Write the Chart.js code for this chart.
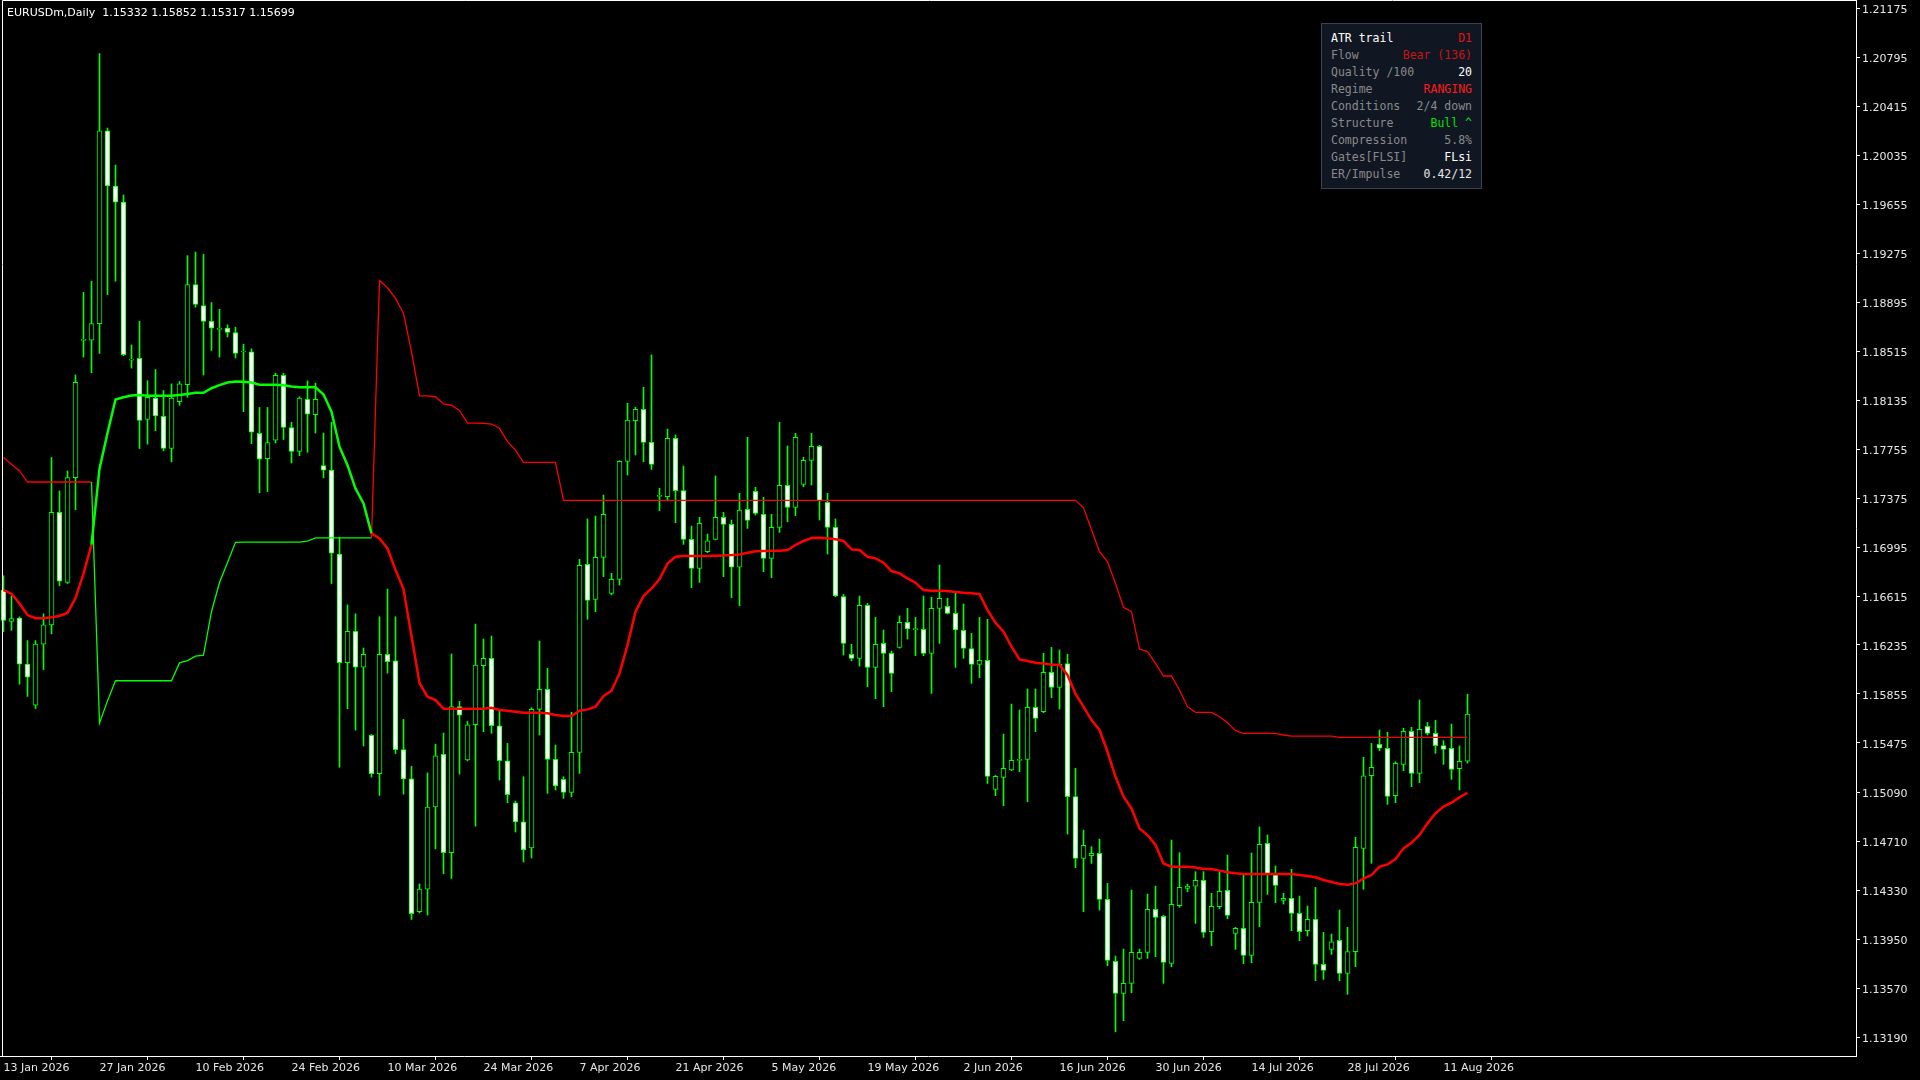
<!DOCTYPE html>
<html>
<head>
<meta charset="utf-8">
<script src="https://cdn.jsdelivr.net/npm/chart.js@4.4.1/dist/chart.umd.min.js"></script>
<style>
  html, body { margin: 0; padding: 0; background: #000; }
  #wrap { position: relative; width: 1920px; height: 1080px; overflow: hidden; }
  #chart { position: absolute; left: 0; top: 0; }
  #head { position: absolute; left: 7px; top: 6px; font: 11px "DejaVu Sans", sans-serif; color: #fff; white-space: pre; }
  #panel { position: absolute; left: 1321px; top: 23px; width: 159px; height: 164px; background: #111722; border: 1px solid #3a4150;
           font: 11.5px "DejaVu Sans Mono", monospace; }
  #panel .row { position: absolute; left: 9px; right: 9px; height: 17px; line-height: 17px; }
  #panel .k { float: left; color: #8a8a8a; }
  #panel .v { float: right; }
</style>
</head>
<body>
<div id="wrap">
  <canvas id="chart" width="1920" height="1080"></canvas>
  <div id="head">EURUSDm,Daily  1.15332 1.15852 1.15317 1.15699</div>
  <div id="panel"></div>
</div>
<script>
// EURUSDm D1 - ATR trail
// 日足 OHLC (13 Jan 2026 から, 1本ずつ)
var opens = [
  1.16661,1.16418,1.16443,1.16086,1.15767,1.16242,1.16391,1.17264,1.16720,1.17534,
  1.18600,1.18602,1.18730,1.20227,1.19798,1.19673,1.18446,1.18460,1.17985,1.18151,
  1.18009,1.17760,1.18124,1.18255,1.19032,1.18869,1.18747,1.18685,1.18695,1.18661,
  1.18509,1.18511,1.17877,1.17681,1.17824,1.18328,1.17923,1.17738,1.18142,1.18023,
  1.17628,1.17592,1.16941,1.16098,1.16341,1.16062,1.15534,1.15236,1.16162,1.16112,
  1.15422,1.15196,1.14164,1.14340,1.14977,1.15385,1.14622,1.15757,1.15342,1.15617,
  1.16074,1.16131,1.15608,1.15336,1.15010,1.14861,1.14659,1.15735,1.15890,1.15347,
  1.15191,1.15090,1.15401,1.16861,1.16589,1.16915,1.16636,1.16744,1.17660,1.17976,
  1.18064,1.17808,1.17389,1.17386,1.17839,1.17433,1.17055,1.16830,1.16959,1.17055,
  1.17226,1.17171,1.16838,1.17288,1.17428,1.17249,1.16907,1.17148,1.17474,1.17303,
  1.17482,1.17668,1.17777,1.17342,1.17148,1.16610,1.16162,1.16131,1.16542,1.16061,
  1.16247,1.16170,1.16216,1.16410,1.16354,1.16356,1.16170,1.16519,1.16535,1.16480,
  1.16348,1.16206,1.16084,1.16115,1.15114,1.15207,1.15264,1.15339,1.15347,1.15750,
  1.15717,1.16022,1.15906,1.16090,1.15057,1.14578,1.14599,1.14617,1.14260,1.13778,
  1.13530,1.13608,1.13802,1.13848,1.14182,1.14128,1.13763,1.14211,1.14345,1.14363,
  1.14407,1.14009,1.14203,1.14330,1.13996,1.14035,1.13825,1.14237,1.14695,1.14449,
  1.14252,1.14268,1.14151,1.14017,1.14105,1.13755,1.13872,1.13942,1.13686,1.13854,
  1.14656,1.15220,1.15464,1.15433,1.15065,1.15308,1.15564,1.15238,1.15603,1.15549,
  1.15453,1.15433,1.15275,1.15332
];
var highs = [
  1.16772,1.16616,1.16453,1.16269,1.16269,1.16477,1.17690,1.17430,1.17586,1.18331,
  1.18973,1.19059,1.20827,1.20248,1.19961,1.19728,1.18564,1.18747,1.18286,1.18373,
  1.18210,1.18262,1.18280,1.19257,1.19285,1.19267,1.18893,1.18841,1.18720,1.18702,
  1.18570,1.18534,1.18079,1.18079,1.18345,1.18345,1.17963,1.18162,1.18285,1.18268,
  1.17880,1.17963,1.17067,1.16546,1.16477,1.16211,1.15540,1.16454,1.16669,1.16454,
  1.15657,1.15292,1.14380,1.15242,1.15465,1.15551,1.16165,1.15797,1.15641,1.16397,
  1.16281,1.16304,1.15730,1.15471,1.15023,1.15212,1.15748,1.16265,1.16053,1.15458,
  1.15212,1.15712,1.16900,1.17213,1.17236,1.17399,1.16791,1.17665,1.18111,1.18080,
  1.18235,1.18486,1.17451,1.17911,1.17865,1.17624,1.17158,1.17226,1.17096,1.17547,
  1.17265,1.17205,1.17412,1.17847,1.17459,1.17381,1.17249,1.17963,1.17780,1.17878,
  1.17692,1.17878,1.17785,1.17412,1.17213,1.16628,1.16240,1.16615,1.16558,1.16449,
  1.16351,1.16188,1.16460,1.16519,1.16449,1.16615,1.16605,1.16856,1.16597,1.16649,
  1.16553,1.16325,1.16449,1.16434,1.15222,1.15543,1.15776,1.15730,1.15893,1.15893,
  1.16170,1.16216,1.16196,1.16162,1.15277,1.14798,1.14669,1.14728,1.14384,1.13820,
  1.13874,1.14332,1.13874,1.14301,1.14363,1.14138,1.14720,1.14622,1.14379,1.14475,
  1.14475,1.14307,1.14475,1.14604,1.14043,1.14454,1.14620,1.14822,1.14760,1.14519,
  1.14307,1.14493,1.14286,1.14208,1.14353,1.14004,1.13991,1.14177,1.14043,1.14742,
  1.15363,1.15471,1.15575,1.15557,1.15329,1.15588,1.15596,1.15808,1.15634,1.15650,
  1.15492,1.15621,1.15451,1.15852
];
var lows = [
  1.16339,1.16349,1.15930,1.15836,1.15742,1.16044,1.16321,1.16696,1.16712,1.17285,
  1.18470,1.18349,1.18498,1.18955,1.19059,1.18480,1.18384,1.17760,1.17794,1.17898,
  1.17742,1.17656,1.18096,1.18158,1.18858,1.18331,1.18522,1.18470,1.18626,1.18463,
  1.18046,1.17797,1.17416,1.17426,1.17804,1.17830,1.17648,1.17704,1.17731,1.17880,
  1.17532,1.16712,1.15286,1.15740,1.15574,1.15451,1.15209,1.15067,1.16016,1.15392,
  1.15077,1.14104,1.14155,1.14138,1.14652,1.14459,1.14423,1.15232,1.15335,1.14828,
  1.15562,1.15549,1.15186,1.15010,1.14783,1.14550,1.14581,1.15536,1.15083,1.15109,
  1.15044,1.15057,1.15238,1.16434,1.16493,1.16765,1.16623,1.16700,1.17554,1.17710,
  1.17658,1.17598,1.17277,1.17360,1.17184,1.17016,1.16680,1.16721,1.16951,1.17050,
  1.16765,1.16602,1.16540,1.17140,1.17244,1.16804,1.16757,1.17109,1.17192,1.17239,
  1.17464,1.17477,1.17205,1.16941,1.16610,1.16157,1.16113,1.16071,1.15911,1.15818,
  1.15756,1.15872,1.16210,1.16281,1.16152,1.16152,1.15859,1.16247,1.16475,1.16061,
  1.16131,1.15937,1.15981,1.15160,1.15065,1.14987,1.15259,1.15251,1.15018,1.15562,
  1.15709,1.15826,1.15738,1.14767,1.14506,1.14164,1.14539,1.14177,1.13745,1.13232,
  1.13318,1.13535,1.13794,1.13802,1.13815,1.13608,1.13737,1.14198,1.14319,1.14073,
  1.13965,1.13900,1.14188,1.14110,1.13872,1.13761,1.13768,1.14048,1.14299,1.14234,
  1.14224,1.14017,1.13939,1.13975,1.13629,1.13639,1.13833,1.13629,1.13523,1.13737,
  1.14338,1.14540,1.15414,1.14998,1.15011,1.15259,1.15135,1.15166,1.15536,1.15394,
  1.15308,1.15192,1.15109,1.15317
];
var closes = [
  1.16425,1.16439,1.16086,1.15985,1.16242,1.16391,1.17264,1.16730,1.17534,1.18273,
  1.18604,1.18730,1.20227,1.19798,1.19673,1.18488,1.18448,1.17978,1.18158,1.18013,
  1.17760,1.18151,1.18262,1.19032,1.18879,1.18747,1.18695,1.18687,1.18661,1.18498,
  1.18511,1.17887,1.17678,1.17807,1.18328,1.17923,1.17738,1.18152,1.18026,1.18142,
  1.17592,1.16948,1.16098,1.16341,1.16062,1.16162,1.15236,1.16162,1.16105,1.15422,
  1.15196,1.14148,1.14340,1.14977,1.15375,1.14622,1.15757,1.15690,1.15614,1.16078,
  1.16131,1.15608,1.15336,1.15072,1.14861,1.14643,1.15735,1.15890,1.15347,1.15140,
  1.15090,1.15401,1.16853,1.16581,1.16915,1.17249,1.16744,1.17660,1.17981,1.18064,
  1.17808,1.17637,1.17393,1.17839,1.17433,1.17055,1.16830,1.17179,1.17044,1.17226,
  1.17171,1.16838,1.17283,1.17202,1.17257,1.16907,1.17148,1.17474,1.17303,1.17847,
  1.17668,1.17777,1.17355,1.17148,1.16615,1.16247,1.16131,1.16542,1.16061,1.16240,
  1.16170,1.16015,1.16410,1.16359,1.16358,1.16170,1.16519,1.16597,1.16480,1.16351,
  1.16209,1.16084,1.16115,1.15215,1.15215,1.15277,1.15339,1.15347,1.15750,1.15665,
  1.16022,1.15906,1.16087,1.15057,1.14578,1.14679,1.14617,1.14260,1.13786,1.13530,
  1.13608,1.13848,1.13848,1.14182,1.14120,1.13771,1.14221,1.14353,1.14363,1.14407,
  1.14004,1.14206,1.14322,1.14136,1.14035,1.13825,1.14237,1.14687,1.14454,1.14369,
  1.14268,1.14151,1.14009,1.14105,1.13755,1.13709,1.13931,1.13686,1.13854,1.14664,
  1.15220,1.15285,1.15433,1.15060,1.15316,1.15564,1.15238,1.15580,1.15549,1.15453,
  1.15425,1.15269,1.15332,1.15699
];

// ATR trail: 太線(メイン) と 細線(バンド)
var trailMain = [
  1.16661,1.16633,1.16557,1.16467,1.16443,1.16443,1.16450,1.16460,1.16484,1.16599,
  1.16789,1.17014,1.17604,1.17881,1.18141,1.18158,1.18172,1.18176,1.18169,1.18169,
  1.18169,1.18169,1.18176,1.18183,1.18193,1.18193,1.18228,1.18252,1.18273,1.18280,
  1.18278,1.18272,1.18255,1.18255,1.18255,1.18252,1.18242,1.18235,1.18235,1.18235,
  1.18179,1.18046,1.17774,1.17631,1.17449,1.17333,1.17101,1.17061,1.16984,1.16818,
  1.16669,1.16304,1.15939,1.15833,1.15807,1.15740,1.15740,1.15740,1.15740,1.15740,
  1.15740,1.15748,1.15730,1.15725,1.15717,1.15709,1.15709,1.15709,1.15704,1.15691,
  1.15683,1.15683,1.15725,1.15735,1.15756,1.15838,1.15880,1.16014,1.16234,1.16493,
  1.16615,1.16674,1.16744,1.16868,1.16920,1.16925,1.16925,1.16925,1.16925,1.16928,
  1.16930,1.16933,1.16938,1.16951,1.16962,1.16964,1.16967,1.16967,1.16972,1.17011,
  1.17042,1.17065,1.17067,1.17063,1.17055,1.17042,1.16977,1.16972,1.16920,1.16907,
  1.16874,1.16809,1.16791,1.16752,1.16718,1.16662,1.16656,1.16656,1.16654,1.16646,
  1.16640,1.16636,1.16630,1.16506,1.16408,1.16338,1.16222,1.16123,1.16110,1.16097,
  1.16092,1.16082,1.16082,1.16002,1.15854,1.15756,1.15652,1.15575,1.15406,1.15212,
  1.15057,1.14966,1.14811,1.14759,1.14682,1.14539,1.14513,1.14513,1.14513,1.14508,
  1.14496,1.14496,1.14483,1.14470,1.14462,1.14457,1.14457,1.14457,1.14457,1.14457,
  1.14457,1.14457,1.14449,1.14441,1.14431,1.14410,1.14395,1.14379,1.14374,1.14384,
  1.14421,1.14449,1.14514,1.14532,1.14573,1.14656,1.14700,1.14760,1.14850,1.14928,
  1.14980,1.15011,1.15052,1.15088
];
var trailBand = [
  1.17690,1.17638,1.17586,1.17500,1.17500,1.17500,1.17500,1.17500,1.17500,1.17500,
  1.17500,1.17500,1.15628,1.15801,1.15957,1.15957,1.15957,1.15957,1.15957,1.15957,
  1.15957,1.15957,1.16096,1.16113,1.16148,1.16155,1.16495,1.16720,1.16876,1.17032,
  1.17034,1.17034,1.17034,1.17034,1.17034,1.17034,1.17034,1.17034,1.17041,1.17067,
  1.17067,1.17067,1.17067,1.17067,1.17067,1.17067,1.17067,1.19065,1.19008,1.18925,
  1.18809,1.18511,1.18169,1.18169,1.18162,1.18106,1.18096,1.18056,1.17957,1.17957,
  1.17955,1.17950,1.17917,1.17813,1.17748,1.17653,1.17653,1.17653,1.17653,1.17653,
  1.17358,1.17358,1.17358,1.17358,1.17358,1.17358,1.17358,1.17358,1.17358,1.17358,
  1.17358,1.17358,1.17358,1.17358,1.17358,1.17358,1.17358,1.17358,1.17358,1.17358,
  1.17358,1.17358,1.17358,1.17358,1.17358,1.17358,1.17358,1.17358,1.17358,1.17358,
  1.17358,1.17358,1.17358,1.17358,1.17358,1.17358,1.17358,1.17358,1.17358,1.17358,
  1.17358,1.17358,1.17358,1.17358,1.17358,1.17358,1.17358,1.17358,1.17358,1.17358,
  1.17358,1.17358,1.17358,1.17358,1.17358,1.17358,1.17358,1.17358,1.17358,1.17358,
  1.17358,1.17358,1.17358,1.17358,1.17358,1.17300,1.17130,1.16960,1.16881,1.16713,
  1.16527,1.16493,1.16203,1.16183,1.16092,1.15994,1.15994,1.15885,1.15756,1.15712,
  1.15712,1.15712,1.15678,1.15632,1.15570,1.15549,1.15549,1.15549,1.15549,1.15549,
  1.15536,1.15528,1.15528,1.15528,1.15528,1.15528,1.15528,1.15518,1.15518,1.15518,
  1.15518,1.15518,1.15518,1.15518,1.15518,1.15518,1.15518,1.15518,1.15518,1.15518,
  1.15518,1.15518,1.15518,1.15518
];
// 上昇判定の区間 (バーindex)
var bullFrom = 11, bullTo = 46;

var dateLabels = ["13 Jan 2026", "27 Jan 2026", "10 Feb 2026", "24 Feb 2026", "10 Mar 2026", "24 Mar 2026",
  "7 Apr 2026", "21 Apr 2026", "5 May 2026", "19 May 2026", "2 Jun 2026", "16 Jun 2026",
  "30 Jun 2026", "14 Jul 2026", "28 Jul 2026", "11 Aug 2026"];
var barsPerLabel = 12;
var priceLabels = ["1.21175", "1.20795", "1.20415", "1.20035", "1.19655", "1.19275", "1.18895", "1.18515",
  "1.18135", "1.17755", "1.17375", "1.16995", "1.16615", "1.16235", "1.15855", "1.15475", "1.15090",
  "1.14710", "1.14330", "1.13950", "1.13570", "1.13190"];

// パネル
var panelRows = [
  ["ATR trail", "D1", "#ffffff", "#e01515"],
  ["Flow", "Bear (136)", null, "#c81414"],
  ["Quality /100", "20", null, "#ffffff"],
  ["Regime", "RANGING", null, "#ff1a1a"],
  ["Conditions", "2/4 down", null, "#8a8a8a"],
  ["Structure", "Bull ^", null, "#00e000"],
  ["Compression", "5.8%", null, "#8a8a8a"],
  ["Gates[FLSI]", "FLsi", null, "#ffffff"],
  ["ER/Impulse", "0.42/12", null, "#e6e6e6"]
];
var panel = document.getElementById("panel");
panelRows.forEach(function (r, i) {
  var row = document.createElement("div");
  row.className = "row";
  row.style.top = (6 + i * 17) + "px";
  row.innerHTML = '<span class="k"' + (r[2] ? ' style="color:' + r[2] + '"' : '') + '>' + r[0] +
    '</span><span class="v" style="color:' + r[3] + '">' + r[1] + '</span>';
  panel.appendChild(row);
});

var GREEN = "#00ff00", RED = "#ff0000";
function trailColor(ctx) {
  var i = ctx.p0DataIndex;
  return (i >= bullFrom && i < bullTo) ? GREEN : RED;
}
function pts(arr) { return arr.map(function (v, i) { return { x: i, y: v }; }); }

// MT4 風の枠線
var framePlugin = {
  id: "frame",
  afterDraw: function (chart) {
    var a = chart.chartArea, c = chart.ctx;
    c.save();
    c.strokeStyle = "#ffffff";
    c.lineWidth = 1;
    c.beginPath();
    c.moveTo(a.left + 2.5, a.bottom);
    c.lineTo(a.left + 2.5, a.top + 0.5);
    c.lineTo(a.right, a.top + 0.5);
    c.stroke();
    c.restore();
  }
};

var ctx = document.getElementById("chart");
var chart = new Chart(ctx, {
  type: "bar",
  data: {
    datasets: [
      { type: "line", data: pts(trailMain), borderColor: RED, borderWidth: 2.5, pointRadius: 0,
        segment: { borderColor: trailColor }, order: 0 },
      { type: "line", data: pts(trailBand), borderColor: RED, borderWidth: 1.3, pointRadius: 0,
        segment: { borderColor: trailColor }, order: 0 },
      { type: "bar",
        data: opens.map(function (o, i) { return { x: i, y: [o, closes[i]] }; }),
        backgroundColor: opens.map(function (o, i) { return closes[i] >= o ? "#000000" : "#ffffff"; }),
        borderColor: GREEN, borderWidth: 1, borderSkipped: false,
        barThickness: 5, grouped: false, minBarLength: 1, order: 1 },
      { type: "bar",
        data: lows.map(function (l, i) { return { x: i, y: [l, highs[i]] }; }),
        backgroundColor: GREEN, borderWidth: 0,
        barThickness: 1, grouped: false, order: 2 }
    ]
  },
  options: {
    responsive: false,
    devicePixelRatio: 1,
    animation: false,
    layout: { padding: 0 },
    plugins: { legend: { display: false }, tooltip: { enabled: false } },
    scales: {
      x: {
        type: "linear",
        offset: false,
        min: -0.4375,
        max: 231.5625,
        afterBuildTicks: function (axis) {
          axis.ticks = dateLabels.map(function (s, k) { return { value: k * barsPerLabel }; });
        },
        afterFit: function (axis) { axis.height = 24; axis.paddingLeft = 0; axis.paddingRight = 0; },
        grid: { drawOnChartArea: false, drawTicks: true, tickLength: 4, tickColor: "#ffffff" },
        border: { display: true, color: "#ffffff", width: 1 },
        ticks: {
          autoSkip: false, maxRotation: 0, align: "start", padding: 2,
          color: "#e6e6e6", font: { family: "DejaVu Sans", size: 11 },
          callback: function (v) { return dateLabels[Math.round(v / barsPerLabel)]; }
        }
      },
      y: {
        position: "right",
        min: 1.13044,
        max: 1.21242,
        afterBuildTicks: function (axis) {
          axis.ticks = priceLabels.map(function (s) { return { value: parseFloat(s) }; });
        },
        afterFit: function (axis) { axis.width = 64; axis.paddingTop = 0; axis.paddingBottom = 0; },
        grid: { drawOnChartArea: false, drawTicks: true, tickLength: 4, tickColor: "#ffffff" },
        border: { display: true, color: "#ffffff", width: 1 },
        ticks: {
          padding: 2, labelOffset: 2, color: "#e6e6e6", font: { family: "DejaVu Sans", size: 11 },
          callback: function (v) { return v.toFixed(5); }
        }
      }
    }
  },
  plugins: [framePlugin]
});
</script>
</body>
</html>
